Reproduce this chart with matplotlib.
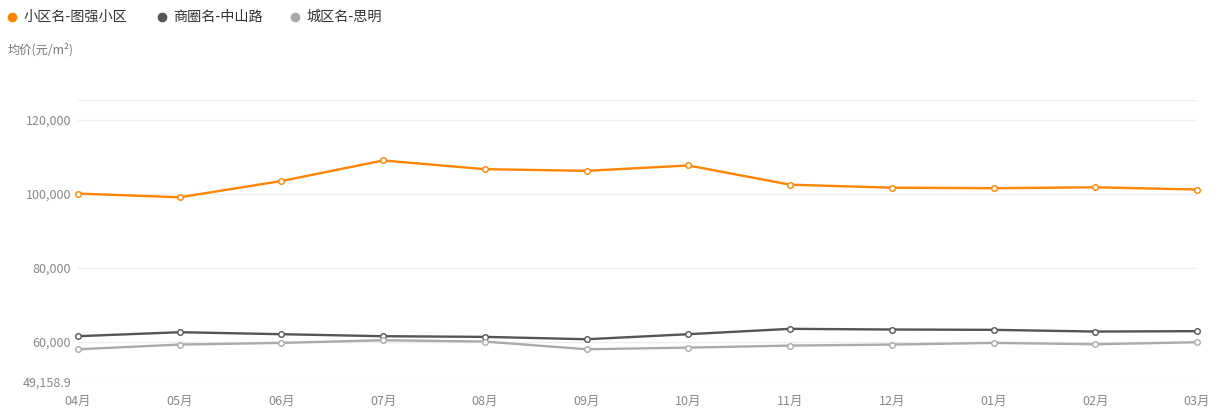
import matplotlib
matplotlib.use('Agg')
import matplotlib.pyplot as plt
from matplotlib.lines import Line2D

plt.rcParams['font.family'] = ['Noto Sans CJK SC', 'DejaVu Sans']

months = ['04月', '05月', '06月', '07月', '08月', '09月',
          '10月', '11月', '12月', '01月', '02月', '03月']
xiaoqu = [100100, 99100, 103500, 109050, 106700, 106250,
          107700, 102500, 101700, 101550, 101800, 101200]
shangquan = [61540, 62620, 62080, 61540, 61360, 60720,
             62080, 63530, 63350, 63260, 62800, 62900]
chengqu = [58010, 59280, 59730, 60450, 60090, 58010,
           58460, 59000, 59280, 59730, 59370, 59910]
series_names = ['小区名-图强小区', '商圈名-中山路', '城区名-思明']
series_colors = ['#ff8500', '#555555', '#aaaaaa']

y_min = 49158.9
y_max = 125400
y_ticks = [y_min, 60000, 80000, 100000, 120000]

fig = plt.figure(figsize=(12.21, 4.16), dpi=100)
ax = fig.add_axes([78 / 1221, 1 - 382 / 416, (1197 - 78) / 1221, (382 - 100) / 416])

x = list(range(len(months)))
for vals, name, col in zip([xiaoqu, shangquan, chengqu], series_names, series_colors):
    ax.plot(x, vals, color=col, lw=1.7, marker='o', ms=4,
            mfc='white', mec=col, mew=1.0, zorder=3, clip_on=False)

ax.set_xlim(0, len(months) - 1)
ax.set_ylim(y_min, y_max)

# grid lines, incl. the unlabeled top one
for v in y_ticks + [y_max]:
    ax.axhline(v, color='#eeeeee', lw=1, zorder=1)

ax.set_yticks(y_ticks)
ax.set_yticklabels(['{:,.1f}'.format(y_min)] + ['{:,}'.format(v) for v in y_ticks[1:]])
ax.set_xticks(x)
ax.set_xticklabels(months)
ax.tick_params(axis='both', length=0, labelsize=9, colors='#888888')
ax.tick_params(axis='y', pad=5)
ax.tick_params(axis='x', pad=9)
for s in ax.spines.values():
    s.set_visible(False)

# legend drawn by hand at the top
legend_x = [12, 162, 295]
for lx, name, col in zip(legend_x, series_names, series_colors):
    fig.add_artist(Line2D([lx / 1221], [1 - 17 / 416], marker='o', ms=6,
                          color=col, lw=0, transform=fig.transFigure))
    fig.text((lx + 11) / 1221, 1 - 17 / 416, name, fontsize=10.2, color='#333333',
             va='center', ha='left')

fig.text(8 / 1221, 1 - 50 / 416, '均价(元/m²)', fontsize=8.8, color='#777777',
         va='center', ha='left')

plt.savefig('out.png', dpi=100)
plt.close()
